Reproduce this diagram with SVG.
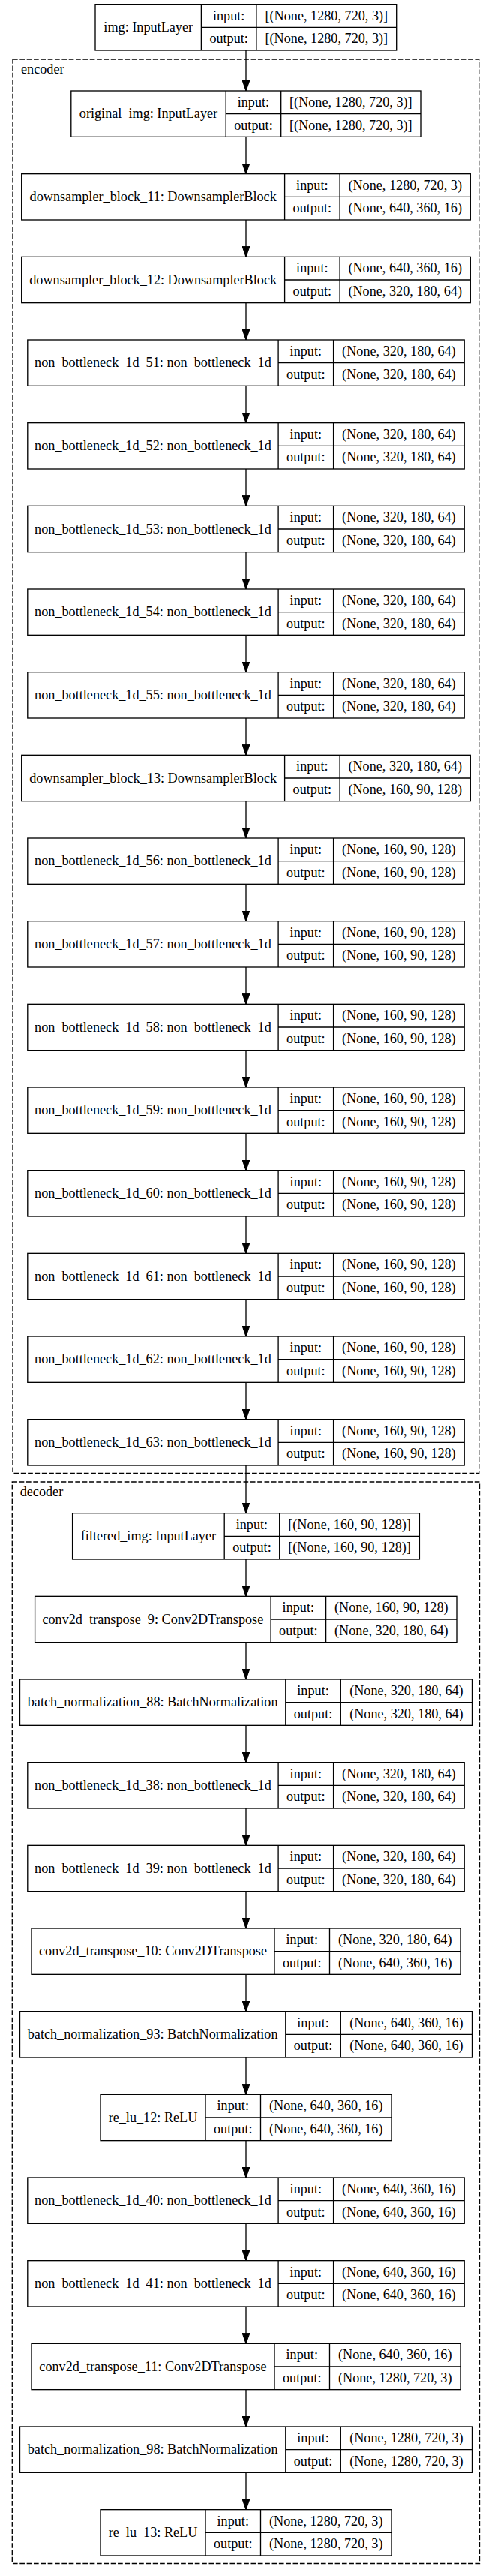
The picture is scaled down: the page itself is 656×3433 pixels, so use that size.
<svg xmlns="http://www.w3.org/2000/svg" width="656" height="3433" viewBox="0 0 656 3433">
<style>
.b{fill:#fff;stroke:#000;stroke-width:1.33}
.d{stroke:#000;stroke-width:1.33}
.c{fill:none;stroke:#000;stroke-width:1.33;stroke-dasharray:6.67,2.67}
.t{font-family:"Liberation Serif","Times New Roman",serif;font-size:18.2px;fill:#000;text-anchor:middle}
.cl{font-family:"Liberation Serif","Times New Roman",serif;font-size:18.2px;fill:#000}
.e{fill:none;stroke:#000;stroke-width:1.33;marker-end:url(#ah)}
</style>
<defs>
<marker id="ah" markerUnits="userSpaceOnUse" markerWidth="14" markerHeight="10" viewBox="0 0 13.33 9.33" refX="13.33" refY="4.67" orient="auto">
<path d="M0,0L13.33,4.67L0,9.33z" fill="#000" stroke="#000" stroke-width="1"/>
</marker>
<g id="nb"><rect class="b" x="0" y="0" width="582.4" height="61.33"/><path class="d" d="M334.3,0V61.33M407.8,0V61.33M334.3,30.67H582.4"/><text class="t" x="371.05" y="21">input:</text><text class="t" x="371.05" y="51.6">output:</text></g>
<g id="ds"><rect class="b" x="0" y="0" width="598.6" height="61.33"/><path class="d" d="M350.9,0V61.33M424.4,0V61.33M350.9,30.67H598.6"/><text class="t" x="387.65" y="21">input:</text><text class="t" x="387.65" y="51.6">output:</text></g>
<g id="bn"><rect class="b" x="0" y="0" width="603" height="61.33"/><path class="d" d="M354.3,0V61.33M427.8,0V61.33M354.3,30.67H603"/><text class="t" x="391.05" y="21">input:</text><text class="t" x="391.05" y="51.6">output:</text></g>
<g id="ct"><rect class="b" x="0" y="0" width="572" height="61.33"/><path class="d" d="M324,0V61.33M397.5,0V61.33M324,30.67H572"/><text class="t" x="360.75" y="21">input:</text><text class="t" x="360.75" y="51.6">output:</text></g>
<g id="rl"><rect class="b" x="0" y="0" width="388" height="61.33"/><path class="d" d="M140,0V61.33M213.5,0V61.33M140,30.67H388"/><text class="t" x="176.75" y="21">input:</text><text class="t" x="176.75" y="51.6">output:</text></g>
</defs>
<rect x="0" y="0" width="656" height="3433" fill="#fff"/>
<g id="cluster_encoder"><rect class="c" x="17" y="79" width="621.7" height="1884.3"/><text class="cl" x="28" y="98">encoder</text></g>
<g id="cluster_decoder"><rect class="c" x="16.3" y="1975" width="623.2" height="1441.5"/><text class="cl" x="26.7" y="1993.5">decoder</text></g>
<g id="connectors">
<path class="e" d="M328,67V121"/>
<path class="e" d="M328,182.33V231.67"/>
<path class="e" d="M328,293V342.33"/>
<path class="e" d="M328,403.67V453"/>
<path class="e" d="M328,514.33V563.67"/>
<path class="e" d="M328,625V674.33"/>
<path class="e" d="M328,735.67V785"/>
<path class="e" d="M328,846.33V895.67"/>
<path class="e" d="M328,957V1006.33"/>
<path class="e" d="M328,1067.67V1117"/>
<path class="e" d="M328,1178.33V1227.67"/>
<path class="e" d="M328,1289V1338.33"/>
<path class="e" d="M328,1399.67V1449"/>
<path class="e" d="M328,1510.33V1559.67"/>
<path class="e" d="M328,1621V1670.33"/>
<path class="e" d="M328,1731.67V1781"/>
<path class="e" d="M328,1842.33V1891.67"/>
<path class="e" d="M328,1953V2016.67"/>
<path class="e" d="M328,2078V2127.33"/>
<path class="e" d="M328,2188.67V2238"/>
<path class="e" d="M328,2299.33V2348.67"/>
<path class="e" d="M328,2410V2459.33"/>
<path class="e" d="M328,2520.67V2570"/>
<path class="e" d="M328,2631.33V2680.67"/>
<path class="e" d="M328,2742V2791.33"/>
<path class="e" d="M328,2852.67V2902"/>
<path class="e" d="M328,2963.33V3012.67"/>
<path class="e" d="M328,3074V3123.33"/>
<path class="e" d="M328,3184.67V3234"/>
<path class="e" d="M328,3295.33V3344.67"/>
</g>
<g id="img" transform="translate(127,5.67)"><rect class="b" x="0" y="0" width="401.7" height="61.33"/><path class="d" d="M141.4,0V61.33M214.9,0V61.33M141.4,30.67H401.7"/><text class="t" x="70.7" y="36.4">img: InputLayer</text><text class="t" x="178.15" y="21">input:</text><text class="t" x="178.15" y="51.6">output:</text><text class="t" x="308.3" y="21">[(None, 1280, 720, 3)]</text><text class="t" x="308.3" y="51.6">[(None, 1280, 720, 3)]</text></g>
<g id="original_img" transform="translate(94.8,121)"><rect class="b" x="0" y="0" width="466.2" height="61.33"/><path class="d" d="M206.4,0V61.33M279.9,0V61.33M206.4,30.67H466.2"/><text class="t" x="103.2" y="36.4">original_img: InputLayer</text><text class="t" x="243.15" y="21">input:</text><text class="t" x="243.15" y="51.6">output:</text><text class="t" x="373.05" y="21">[(None, 1280, 720, 3)]</text><text class="t" x="373.05" y="51.6">[(None, 1280, 720, 3)]</text></g>
<g id="downsampler_block_11" transform="translate(28.7,231.67)"><use href="#ds"/><text class="t" x="175.45" y="36.4">downsampler_block_11: DownsamplerBlock</text><text class="t" x="511.5" y="21">(None, 1280, 720, 3)</text><text class="t" x="511.5" y="51.6">(None, 640, 360, 16)</text></g>
<g id="downsampler_block_12" transform="translate(28.7,342.33)"><use href="#ds"/><text class="t" x="175.45" y="36.4">downsampler_block_12: DownsamplerBlock</text><text class="t" x="511.5" y="21">(None, 640, 360, 16)</text><text class="t" x="511.5" y="51.6">(None, 320, 180, 64)</text></g>
<g id="non_bottleneck_1d_51" transform="translate(36.8,453)"><use href="#nb"/><text class="t" x="167.15" y="36.4">non_bottleneck_1d_51: non_bottleneck_1d</text><text class="t" x="495.1" y="21">(None, 320, 180, 64)</text><text class="t" x="495.1" y="51.6">(None, 320, 180, 64)</text></g>
<g id="non_bottleneck_1d_52" transform="translate(36.8,563.67)"><use href="#nb"/><text class="t" x="167.15" y="36.4">non_bottleneck_1d_52: non_bottleneck_1d</text><text class="t" x="495.1" y="21">(None, 320, 180, 64)</text><text class="t" x="495.1" y="51.6">(None, 320, 180, 64)</text></g>
<g id="non_bottleneck_1d_53" transform="translate(36.8,674.33)"><use href="#nb"/><text class="t" x="167.15" y="36.4">non_bottleneck_1d_53: non_bottleneck_1d</text><text class="t" x="495.1" y="21">(None, 320, 180, 64)</text><text class="t" x="495.1" y="51.6">(None, 320, 180, 64)</text></g>
<g id="non_bottleneck_1d_54" transform="translate(36.8,785)"><use href="#nb"/><text class="t" x="167.15" y="36.4">non_bottleneck_1d_54: non_bottleneck_1d</text><text class="t" x="495.1" y="21">(None, 320, 180, 64)</text><text class="t" x="495.1" y="51.6">(None, 320, 180, 64)</text></g>
<g id="non_bottleneck_1d_55" transform="translate(36.8,895.67)"><use href="#nb"/><text class="t" x="167.15" y="36.4">non_bottleneck_1d_55: non_bottleneck_1d</text><text class="t" x="495.1" y="21">(None, 320, 180, 64)</text><text class="t" x="495.1" y="51.6">(None, 320, 180, 64)</text></g>
<g id="downsampler_block_13" transform="translate(28.7,1006.33)"><use href="#ds"/><text class="t" x="175.45" y="36.4">downsampler_block_13: DownsamplerBlock</text><text class="t" x="511.5" y="21">(None, 320, 180, 64)</text><text class="t" x="511.5" y="51.6">(None, 160, 90, 128)</text></g>
<g id="non_bottleneck_1d_56" transform="translate(36.8,1117)"><use href="#nb"/><text class="t" x="167.15" y="36.4">non_bottleneck_1d_56: non_bottleneck_1d</text><text class="t" x="495.1" y="21">(None, 160, 90, 128)</text><text class="t" x="495.1" y="51.6">(None, 160, 90, 128)</text></g>
<g id="non_bottleneck_1d_57" transform="translate(36.8,1227.67)"><use href="#nb"/><text class="t" x="167.15" y="36.4">non_bottleneck_1d_57: non_bottleneck_1d</text><text class="t" x="495.1" y="21">(None, 160, 90, 128)</text><text class="t" x="495.1" y="51.6">(None, 160, 90, 128)</text></g>
<g id="non_bottleneck_1d_58" transform="translate(36.8,1338.33)"><use href="#nb"/><text class="t" x="167.15" y="36.4">non_bottleneck_1d_58: non_bottleneck_1d</text><text class="t" x="495.1" y="21">(None, 160, 90, 128)</text><text class="t" x="495.1" y="51.6">(None, 160, 90, 128)</text></g>
<g id="non_bottleneck_1d_59" transform="translate(36.8,1449)"><use href="#nb"/><text class="t" x="167.15" y="36.4">non_bottleneck_1d_59: non_bottleneck_1d</text><text class="t" x="495.1" y="21">(None, 160, 90, 128)</text><text class="t" x="495.1" y="51.6">(None, 160, 90, 128)</text></g>
<g id="non_bottleneck_1d_60" transform="translate(36.8,1559.67)"><use href="#nb"/><text class="t" x="167.15" y="36.4">non_bottleneck_1d_60: non_bottleneck_1d</text><text class="t" x="495.1" y="21">(None, 160, 90, 128)</text><text class="t" x="495.1" y="51.6">(None, 160, 90, 128)</text></g>
<g id="non_bottleneck_1d_61" transform="translate(36.8,1670.33)"><use href="#nb"/><text class="t" x="167.15" y="36.4">non_bottleneck_1d_61: non_bottleneck_1d</text><text class="t" x="495.1" y="21">(None, 160, 90, 128)</text><text class="t" x="495.1" y="51.6">(None, 160, 90, 128)</text></g>
<g id="non_bottleneck_1d_62" transform="translate(36.8,1781)"><use href="#nb"/><text class="t" x="167.15" y="36.4">non_bottleneck_1d_62: non_bottleneck_1d</text><text class="t" x="495.1" y="21">(None, 160, 90, 128)</text><text class="t" x="495.1" y="51.6">(None, 160, 90, 128)</text></g>
<g id="non_bottleneck_1d_63" transform="translate(36.8,1891.67)"><use href="#nb"/><text class="t" x="167.15" y="36.4">non_bottleneck_1d_63: non_bottleneck_1d</text><text class="t" x="495.1" y="21">(None, 160, 90, 128)</text><text class="t" x="495.1" y="51.6">(None, 160, 90, 128)</text></g>
<g id="filtered_img" transform="translate(96.6,2016.67)"><rect class="b" x="0" y="0" width="462.8" height="61.33"/><path class="d" d="M202.6,0V61.33M276.1,0V61.33M202.6,30.67H462.8"/><text class="t" x="101.3" y="36.4">filtered_img: InputLayer</text><text class="t" x="239.35" y="21">input:</text><text class="t" x="239.35" y="51.6">output:</text><text class="t" x="369.45" y="21">[(None, 160, 90, 128)]</text><text class="t" x="369.45" y="51.6">[(None, 160, 90, 128)]</text></g>
<g id="conv2d_transpose_9" transform="translate(46.6,2127.33)"><rect class="b" x="0" y="0" width="562.4" height="61.33"/><path class="d" d="M314.5,0V61.33M388,0V61.33M314.5,30.67H562.4"/><text class="t" x="157.25" y="36.4">conv2d_transpose_9: Conv2DTranspose</text><text class="t" x="351.25" y="21">input:</text><text class="t" x="351.25" y="51.6">output:</text><text class="t" x="475.2" y="21">(None, 160, 90, 128)</text><text class="t" x="475.2" y="51.6">(None, 320, 180, 64)</text></g>
<g id="batch_normalization_88" transform="translate(26.5,2238)"><use href="#bn"/><text class="t" x="177.15" y="36.4">batch_normalization_88: BatchNormalization</text><text class="t" x="515.4" y="21">(None, 320, 180, 64)</text><text class="t" x="515.4" y="51.6">(None, 320, 180, 64)</text></g>
<g id="non_bottleneck_1d_38" transform="translate(36.8,2348.67)"><use href="#nb"/><text class="t" x="167.15" y="36.4">non_bottleneck_1d_38: non_bottleneck_1d</text><text class="t" x="495.1" y="21">(None, 320, 180, 64)</text><text class="t" x="495.1" y="51.6">(None, 320, 180, 64)</text></g>
<g id="non_bottleneck_1d_39" transform="translate(36.8,2459.33)"><use href="#nb"/><text class="t" x="167.15" y="36.4">non_bottleneck_1d_39: non_bottleneck_1d</text><text class="t" x="495.1" y="21">(None, 320, 180, 64)</text><text class="t" x="495.1" y="51.6">(None, 320, 180, 64)</text></g>
<g id="conv2d_transpose_10" transform="translate(42,2570)"><use href="#ct"/><text class="t" x="162" y="36.4">conv2d_transpose_10: Conv2DTranspose</text><text class="t" x="484.75" y="21">(None, 320, 180, 64)</text><text class="t" x="484.75" y="51.6">(None, 640, 360, 16)</text></g>
<g id="batch_normalization_93" transform="translate(26.5,2680.67)"><use href="#bn"/><text class="t" x="177.15" y="36.4">batch_normalization_93: BatchNormalization</text><text class="t" x="515.4" y="21">(None, 640, 360, 16)</text><text class="t" x="515.4" y="51.6">(None, 640, 360, 16)</text></g>
<g id="re_lu_12" transform="translate(134,2791.33)"><use href="#rl"/><text class="t" x="70" y="36.4">re_lu_12: ReLU</text><text class="t" x="300.75" y="21">(None, 640, 360, 16)</text><text class="t" x="300.75" y="51.6">(None, 640, 360, 16)</text></g>
<g id="non_bottleneck_1d_40" transform="translate(36.8,2902)"><use href="#nb"/><text class="t" x="167.15" y="36.4">non_bottleneck_1d_40: non_bottleneck_1d</text><text class="t" x="495.1" y="21">(None, 640, 360, 16)</text><text class="t" x="495.1" y="51.6">(None, 640, 360, 16)</text></g>
<g id="non_bottleneck_1d_41" transform="translate(36.8,3012.67)"><use href="#nb"/><text class="t" x="167.15" y="36.4">non_bottleneck_1d_41: non_bottleneck_1d</text><text class="t" x="495.1" y="21">(None, 640, 360, 16)</text><text class="t" x="495.1" y="51.6">(None, 640, 360, 16)</text></g>
<g id="conv2d_transpose_11" transform="translate(42,3123.33)"><use href="#ct"/><text class="t" x="162" y="36.4">conv2d_transpose_11: Conv2DTranspose</text><text class="t" x="484.75" y="21">(None, 640, 360, 16)</text><text class="t" x="484.75" y="51.6">(None, 1280, 720, 3)</text></g>
<g id="batch_normalization_98" transform="translate(26.5,3234)"><use href="#bn"/><text class="t" x="177.15" y="36.4">batch_normalization_98: BatchNormalization</text><text class="t" x="515.4" y="21">(None, 1280, 720, 3)</text><text class="t" x="515.4" y="51.6">(None, 1280, 720, 3)</text></g>
<g id="re_lu_13" transform="translate(134,3344.67)"><use href="#rl"/><text class="t" x="70" y="36.4">re_lu_13: ReLU</text><text class="t" x="300.75" y="21">(None, 1280, 720, 3)</text><text class="t" x="300.75" y="51.6">(None, 1280, 720, 3)</text></g>
</svg>
